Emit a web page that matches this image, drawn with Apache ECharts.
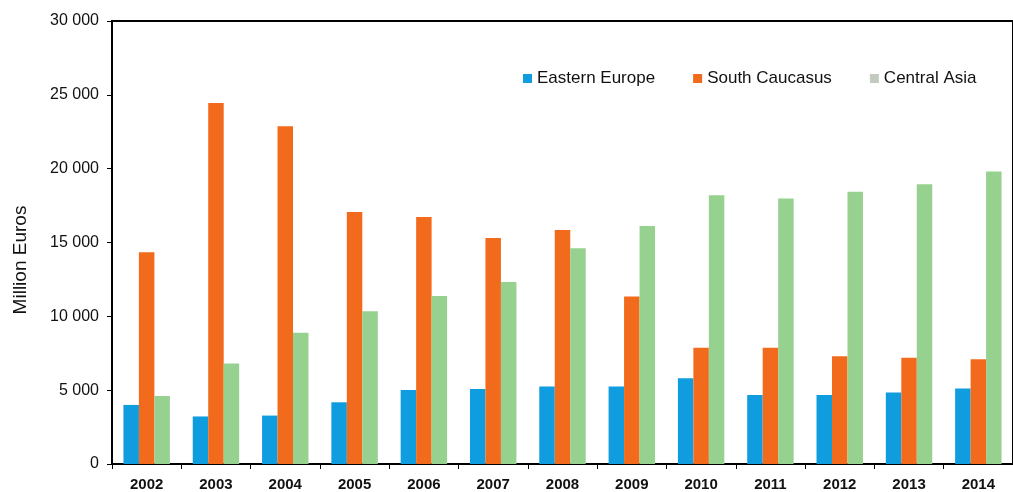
<!DOCTYPE html>
<html>
<head>
<meta charset="utf-8">
<script src="https://cdn.jsdelivr.net/npm/echarts@6/dist/echarts.min.js"></script>
<style>html,body{margin:0;padding:0;background:#fff}#c{width:1013px;height:492px}</style>
</head>
<body>
<div id="c"></div>
<script>
const years = ['2002','2003','2004','2005','2006','2007','2008','2009','2010','2011','2012','2013','2014'];
const easternEurope = [4000, 3220, 3280, 4180, 5010, 5080, 5240, 5240, 5800, 4670, 4670, 4850, 5120];
const southCaucasus = [14340, 24450, 22870, 17060, 16720, 15300, 15840, 11350, 7870, 7870, 7300, 7190, 7100];
const centralAsia = [4600, 6810, 8880, 10340, 11370, 12320, 14610, 16110, 18200, 17980, 18430, 18940, 19800];
const seriesNames = ['Eastern Europe', 'South Caucasus', 'Central Asia'];
const yTicks = [0, 5000, 10000, 15000, 20000, 25000, 30000];

const colors = ['#0f9ddf', '#f26b1d', '#97d18f'];
const fmt = v => String(v).replace(/\B(?=(\d{3})+(?!\d))/g, ' ');

const chart = echarts.init(document.getElementById('c'), null, {renderer: 'canvas'});
chart.setOption({
  backgroundColor: '#fff',
  animation: false,
  textStyle: {fontFamily: 'Liberation Sans, Arial, sans-serif'},
  grid: {left: 112, top: 21, width: 906, bottom: 26, show: true, borderColor: '#000', borderWidth: 2, backgroundColor: 'transparent'},
  legend: {
    left: 518, top: 65,
    itemWidth: 9, itemHeight: 9, itemGap: 38,
    icon: 'rect',
    textStyle: {fontSize: 17, color: '#111', fontFamily: 'Liberation Sans, Arial, sans-serif'},
    data: [
      {name: seriesNames[0], itemStyle: {color: colors[0]}},
      {name: seriesNames[1], itemStyle: {color: colors[1]}},
      {name: seriesNames[2], itemStyle: {color: '#c3cabe'}}
    ]
  },
  graphic: [{
    type: 'text',
    x: 21, y: 260,
    rotation: Math.PI / 2,
    style: {text: 'Million Euros', fontSize: 19, fill: '#111', fontFamily: 'Liberation Sans, Arial, sans-serif', align: 'center', verticalAlign: 'middle'}
  }],
  xAxis: {
    type: 'category', data: years,
    axisLine: {lineStyle: {color: '#000', width: 2}},
    axisTick: {show: true, inside: false, length: 5, lineStyle: {color: '#000', width: 1}},
    axisLabel: {fontSize: 15, fontWeight: 'bold', color: '#111', margin: 13},
    splitLine: {show: false}
  },
  yAxis: {
    type: 'value', min: 0, max: 30000, interval: 5000,
    axisLine: {show: true, lineStyle: {color: '#000', width: 2}},
    axisTick: {show: true, length: 5, lineStyle: {color: '#000'}},
    axisLabel: {fontSize: 16, color: '#111', margin: 13, formatter: v => yTicks.includes(v) ? fmt(v) : ''},
    splitLine: {show: false}
  },
  series: [
    {name: seriesNames[0], type: 'bar', data: easternEurope, itemStyle: {color: colors[0]}, barGap: '0%', barCategoryGap: '33%'},
    {name: seriesNames[1], type: 'bar', data: southCaucasus, itemStyle: {color: colors[1]}, barGap: '0%', barCategoryGap: '33%'},
    {name: seriesNames[2], type: 'bar', data: centralAsia, itemStyle: {color: colors[2]}, barGap: '0%', barCategoryGap: '33%'}
  ]
});
</script>
</body>
</html>
